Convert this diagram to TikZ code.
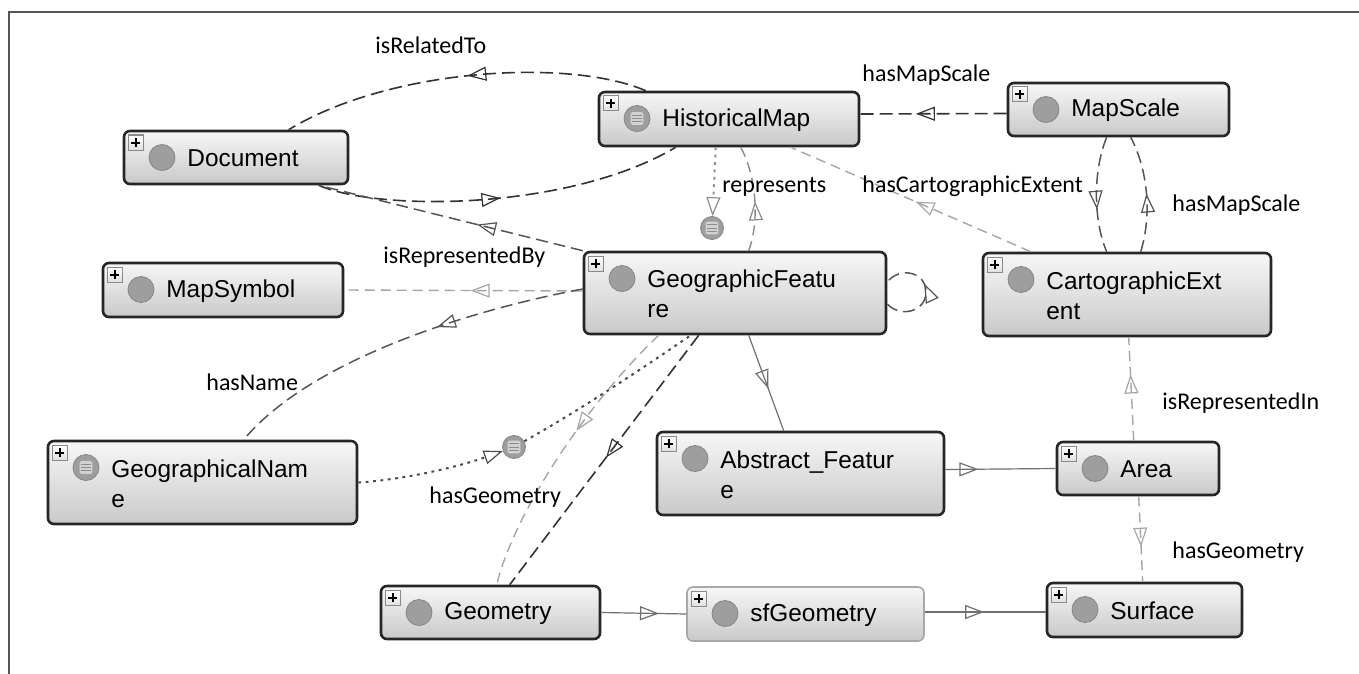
\documentclass[tikz,border=0pt]{standalone}
\usepackage{fontspec}
\newfontfamily\nodefont{Liberation Sans}
\newfontfamily\edgefont{Carlito}
\usetikzlibrary{arrows.meta,decorations.markings,fit,calc}

\definecolor{boxtop}{HTML}{F7F7F7}
\definecolor{boxbottom}{HTML}{C9C9C9}
\definecolor{boxedge}{HTML}{262626}
\definecolor{lightedge}{HTML}{A8A8A8}
\definecolor{plusedge}{HTML}{8A8A8A}
\definecolor{icongrey}{HTML}{9E9E9E}
\definecolor{stripefill}{HTML}{D2D2D2}
\definecolor{stripeline}{HTML}{8C8C8C}
\definecolor{darkline}{HTML}{333333}
\definecolor{midline}{HTML}{555555}
\definecolor{lightline}{HTML}{A6A6A6}
\definecolor{reprline}{HTML}{8A8A8A}
\definecolor{dotcol}{HTML}{4A4A4A}
\definecolor{dotlight}{HTML}{8E8E8E}
\definecolor{solidcol}{HTML}{707070}
\definecolor{framecol}{HTML}{555555}

\tikzset{
  classbox/.style={draw=boxedge, line width=1.3pt, rounded corners=3pt,
    top color=boxtop, bottom color=boxbottom, inner sep=0pt},
  plusbox/.style={draw=plusedge, line width=0.5pt, top color=white, bottom color=black!12,
    minimum size=7.5pt, inner sep=0pt, path picture={
      \draw[black, line width=1pt]
        ([xshift=-2.3pt]path picture bounding box.center) -- ([xshift=2.3pt]path picture bounding box.center);
      \draw[black, line width=1pt]
        ([yshift=-2.3pt]path picture bounding box.center) -- ([yshift=2.3pt]path picture bounding box.center);}},
  plainicon/.style={circle, fill=icongrey, draw=icongrey!85!black, line width=0.4pt,
    minimum size=13pt, inner sep=0pt},
  eqicon/.style={plainicon, path picture={
      \fill[stripefill, rounded corners=0.8pt]
        ([xshift=-3.2pt,yshift=-3.2pt]path picture bounding box.center) rectangle
        ([xshift=3.2pt,yshift=3.2pt]path picture bounding box.center);
      \foreach \dy in {-1.6pt,0pt,1.6pt}{
        \draw[stripeline, line width=0.5pt]
          ([xshift=-2.6pt,yshift=\dy]path picture bounding box.center) --
          ([xshift=2.6pt,yshift=\dy]path picture bounding box.center);}}},
  classtext/.style={anchor=west, align=left, inner sep=0pt, text=black,
    font=\nodefont\fontsize{12.2}{15}\selectfont},
  edgelabel/.style={anchor=west, inner sep=0pt, text=black,
    font=\edgefont\fontsize{12}{14}\selectfont},
  tri/.tip={Triangle[open, length=9.5pt, width=7pt, line width=0.6pt]},
  midtip/.style={postaction={decorate, decoration={markings,
    mark=at position #1 with {\arrow{tri}}}}},
  darkdash/.style={draw=darkline, line width=0.8pt, dash pattern=on 6.5pt off 3pt},
  middash/.style={draw=midline, line width=0.75pt, dash pattern=on 6pt off 3pt},
  reprdash/.style={draw=reprline, line width=0.7pt, dash pattern=on 5pt off 3pt},
  lightdash/.style={draw=lightline, line width=0.7pt, dash pattern=on 5pt off 3pt},
  dotline/.style={draw=dotcol, line width=1pt, dash pattern=on 1.4pt off 2.3pt},
  solidline/.style={draw=solidcol, line width=0.6pt},
}

% class box: [box options]{name}{x1}{y1}{x2}{y2}{label}{icon style}
\newcommand\classnode[8][]{%
  \node[classbox,#1,fit={(#3,#4) (#5,#6)}] (#2) {};
  \node[plusbox] (#2-plus) at ({#3+11.5},{#4+11.5}) {};
  \node[#8] (#2-icon) at ({#3+38},{#4+26.5}) {};
  \node[classtext] (#2-text) at ({#3+63},{(#4+#6)/2+1}) {#7};
}

\begin{document}
\begin{tikzpicture}[x=0.5pt,y=-0.5pt]
\useasboundingbox (0,0) rectangle (1359,674);
\fill[white] (0,0) rectangle (1359,674);
\draw[framecol, line width=1pt] (9,674) -- (9,12) -- (1359,12);

% classes
\classnode{doc}{124}{131}{348}{184}{Document}{plainicon}
\classnode{hm}{599}{92}{859}{146}{HistoricalMap}{eqicon}
\classnode{ms}{1008}{83}{1229}{136}{MapScale}{plainicon}
\classnode{msym}{103}{263}{343}{317}{MapSymbol}{plainicon}
\classnode{gf}{584}{252}{886}{334}{GeographicFeatu\\re}{plainicon}
\classnode{ce}{983}{253}{1271}{336}{CartographicExt\\ent}{plainicon}
\classnode{gn}{48}{441}{357}{524}{GeographicalNam\\e}{eqicon}
\classnode{af}{657}{432}{944}{515}{Abstract\_Featur\\e}{plainicon}
\classnode{area}{1057}{442}{1219}{495}{Area}{plainicon}
\classnode{geo}{381}{586}{600}{639}{Geometry}{plainicon}
\classnode[draw=lightedge, line width=0.8pt]{sfg}{687}{587}{924}{641}{sfGeometry}{plainicon}
\classnode{surf}{1047}{583}{1242}{637}{Surface}{plainicon}

% anonymous classes
\node[eqicon, minimum size=11.5pt] (anon1) at (712,228) {};
\node[eqicon, minimum size=11.5pt] (anon2) at (514,447) {};

% Document / HistoricalMap
\draw[darkdash, midtip=0.49] ($(hm.north west)+(48,0)$) .. controls (570,58) and (390,68) .. ($(doc.north west)+(166,0)$);
\draw[darkdash, midtip=0.5] ($(doc.south west)+(196,0)$) .. controls (380,212) and (570,210) .. ($(hm.south west)+(78,0)$);
\draw[middash, midtip=0.4] (gf.north west) -- ($(doc.south west)+(196,0)$);

% HistoricalMap / MapScale / CartographicExtent
\draw[darkdash, midtip=0.62] ($(ms.west)+(0,4)$) -- ($(hm.east)+(0,-5)$);
\draw[lightdash, midtip=0.48] ($(ce.north west)+(49,0)$) -- ($(hm.south west)+(193,0)$);
\draw[middash, midtip=0.63] ($(ms.south west)+(100,0)$) .. controls (1093,170) and (1093,220) .. ($(ce.north west)+(125,0)$);
\draw[middash, midtip=0.5] ($(ce.north west)+(159,0)$) .. controls (1152,215) and (1148,170) .. ($(ms.south west)+(124,0)$);

% HistoricalMap / GeographicFeature
\draw[dotline, draw=dotlight, -{tri}] ($(hm.south west)+(118,0)$) -- (anon1);
\draw[reprdash, midtip=0.47] ($(gf.north west)+(166,0)$) .. controls (760,220) and (756,175) .. ($(hm.south west)+(143,0)$);

% GeographicFeature self loop
\draw[middash, midtip=0.58] ($(gf.east)+(0,11)$) .. controls (900,318) and (926,312) .. (926,292)
  .. controls (926,272) and (900,266) .. ($(gf.east)+(0,-11)$);

% GeographicFeature neighbours
\draw[lightdash, midtip=0.47] ($(gf.west)+(0,-2)$) -- (msym.east);
\draw[middash, midtip=0.4] ($(gf.west)+(0,-4)$) .. controls (470,310) and (310,360) .. ($(gn.north west)+(197,0)$);
\draw[solidline, midtip=0.56] ($(gf.south west)+(166,0)$) -- ($(af.north west)+(128,0)$);
\draw[dotline, -{tri}] (gn.east) .. controls (400,480) and (455,468) .. (anon2);
\draw[dotline] (anon2) .. controls (580,410) and (640,370) .. ($(gf.south west)+(108,0)$);
\draw[lightdash, midtip=0.42] ($(gf.south west)+(76,0)$) .. controls (590,400) and (515,510) .. ($(geo.north west)+(117,0)$);
\draw[darkdash, midtip=0.49] ($(gf.south west)+(116,0)$) -- ($(geo.north west)+(130,0)$);

% lower part
\draw[solidline, midtip=0.3] ($(af.east)+(0,-4)$) -- (area.west);
\draw[solidline, midtip=0.68] (geo.east) -- (sfg.west);
\draw[solidline, midtip=0.49] ($(sfg.east)+(0,-2)$) -- ($(surf.west)+(0,2)$);
\draw[lightdash, midtip=0.64] ($(area.north west)+(78,0)$) -- ($(ce.south west)+(147,0)$);
\draw[lightdash, midtip=0.59] ($(area.south west)+(83,0)$) -- ($(surf.north west)+(97,0)$);

% property labels
\node[edgelabel] (l-related) at (375,45) {isRelatedTo};
\node[edgelabel] (l-scale1) at (862,75) {hasMapScale};
\node[edgelabel] (l-extent) at (862,186) {hasCartographicExtent};
\node[edgelabel] (l-repr) at (722,187) {represents};
\node[edgelabel] (l-scale2) at (1172,205) {hasMapScale};
\node[edgelabel] (l-reprby) at (383,257) {isRepresentedBy};
\node[edgelabel] (l-name) at (206,382) {hasName};
\node[edgelabel] (l-reprin) at (1162,403) {isRepresentedIn};
\node[edgelabel] (l-geom1) at (429,497) {hasGeometry};
\node[edgelabel] (l-geom2) at (1172,552) {hasGeometry};
\end{tikzpicture}
\end{document}
